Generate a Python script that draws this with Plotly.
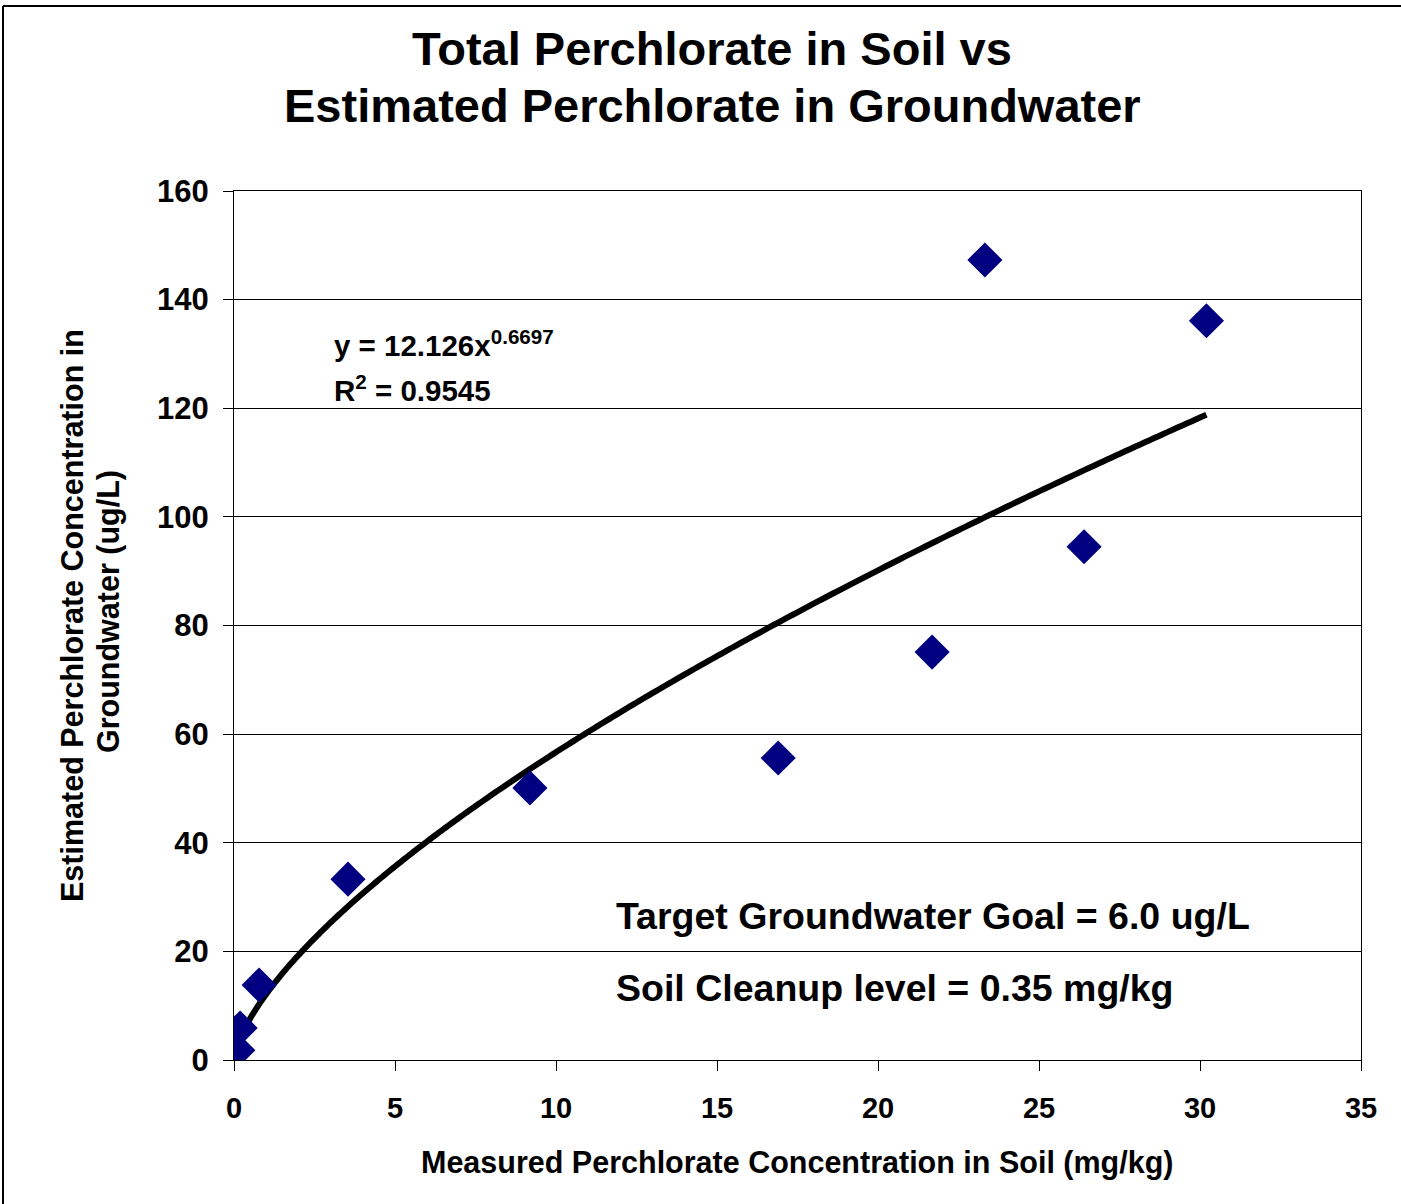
import plotly.graph_objects as go

# Data
soil_mgkg = [0.12, 0.19, 0.78, 3.54, 9.19, 16.9, 21.68, 23.32, 26.4, 30.2]
gw_ugL = [1.8, 5.9, 13.8, 33.3, 50.1, 55.6, 75.1, 147.3, 94.5, 136.1]

# Power trendline as printed on the chart: y = 12.126 x^0.6697
coef_a = 12.126
coef_b = 0.6697
n_curve = 400
x_min, x_max = min(soil_mgkg), max(soil_mgkg)
# denser sampling near the origin where the curve bends most
trend_x = [x_min + (x_max - x_min) * (i / (n_curve - 1)) ** 2 for i in range(n_curve)]
trend_y = [coef_a * x ** coef_b for x in trend_x]

x_ticks = [0, 5, 10, 15, 20, 25, 30, 35]
y_ticks = [0, 20, 40, 60, 80, 100, 120, 140, 160]

FONT = "Liberation Sans, Arial, sans-serif"
W, H = 1401, 1204
L, R, T, B = 234, 40, 191, 144
PW, PH = W - L - R, H - T - B


def px(xp):
    return (xp - L) / PW


def py(yp):
    return (H - B - yp) / PH


fig = go.Figure()
fig.add_trace(go.Scatter(
    x=trend_x, y=trend_y, mode="lines",
    line=dict(color="black", width=6, simplify=False), showlegend=False, hoverinfo="skip"))
fig.add_trace(go.Scatter(
    x=soil_mgkg, y=gw_ugL, mode="markers",
    marker=dict(symbol="diamond", size=27, color="#000080"),
    showlegend=False))

fig.update_layout(
    width=W, height=H,
    margin=dict(l=L, r=R, t=T, b=B),
    paper_bgcolor="white", plot_bgcolor="white",
    font=dict(family=FONT, color="black"),
    xaxis=dict(
        range=[0, 35], tickvals=x_ticks, ticktext=[f"<b>{v}</b>" for v in x_ticks],
        showgrid=False, zeroline=False,
        showline=True, linecolor="black", linewidth=1, mirror=True,
        ticks="outside", ticklen=10, tickcolor="black", ticklabelstandoff=12,
        tickfont=dict(size=29, family=FONT, color="black")),
    yaxis=dict(
        range=[0, 160], tickvals=y_ticks, ticktext=[f"<b>{v}</b>" for v in y_ticks],
        showgrid=True, gridcolor="black", gridwidth=1, zeroline=False,
        showline=True, linecolor="black", linewidth=1, mirror=True,
        ticks="outside", ticklen=10, tickcolor="black", ticklabelstandoff=8,
        tickfont=dict(size=31, family=FONT, color="black")),
)

ann_font = dict(family=FONT, color="black")


def note(text, xp, yp, size, xanchor="left", angle=0):
    fig.add_annotation(text=text, xref="paper", yref="paper", x=px(xp), y=py(yp),
                       textangle=angle, showarrow=False, xanchor=xanchor, yanchor="middle",
                       font=dict(size=size, **ann_font))


# Title (two lines)
note("<b>Total Perchlorate in Soil vs</b>", 712, 48, 47, "center")
note("<b>Estimated Perchlorate in Groundwater</b>", 712, 105, 47, "center")
# Axis titles
note("<b>Measured Perchlorate Concentration in Soil (mg/kg)</b>", 797, 1162, 30.5, "center")
note("<b>Estimated Perchlorate Concentration in</b>", 72, 615, 30.5, "center", -90)
note("<b>Groundwater (ug/L)</b>", 108, 612, 30.5, "center", -90)
# Equation
note("<b>y = 12.126x<sup>0.6697</sup></b>", 332, 343, 29.5)
note("<b>R<sup>2</sup> = 0.9545</b>", 332, 388, 29.5)
# Target notes
note("<b>Target Groundwater Goal = 6.0 ug/L</b>", 614, 916, 37.5)
note("<b>Soil Cleanup level = 0.35 mg/kg</b>", 614, 988, 37.5)

# Outer chart frame (top and left edges visible)
fig.add_shape(type="line", xref="paper", yref="paper",
              x0=px(3), x1=px(W), y0=py(6), y1=py(6), line=dict(color="black", width=2))
fig.add_shape(type="line", xref="paper", yref="paper",
              x0=px(3), x1=px(3), y0=py(6), y1=py(H), line=dict(color="black", width=2))

fig.write_html("out.html", config={"displayModeBar": False},
               post_script="document.body.style.margin='0';document.body.style.overflow='hidden';")
